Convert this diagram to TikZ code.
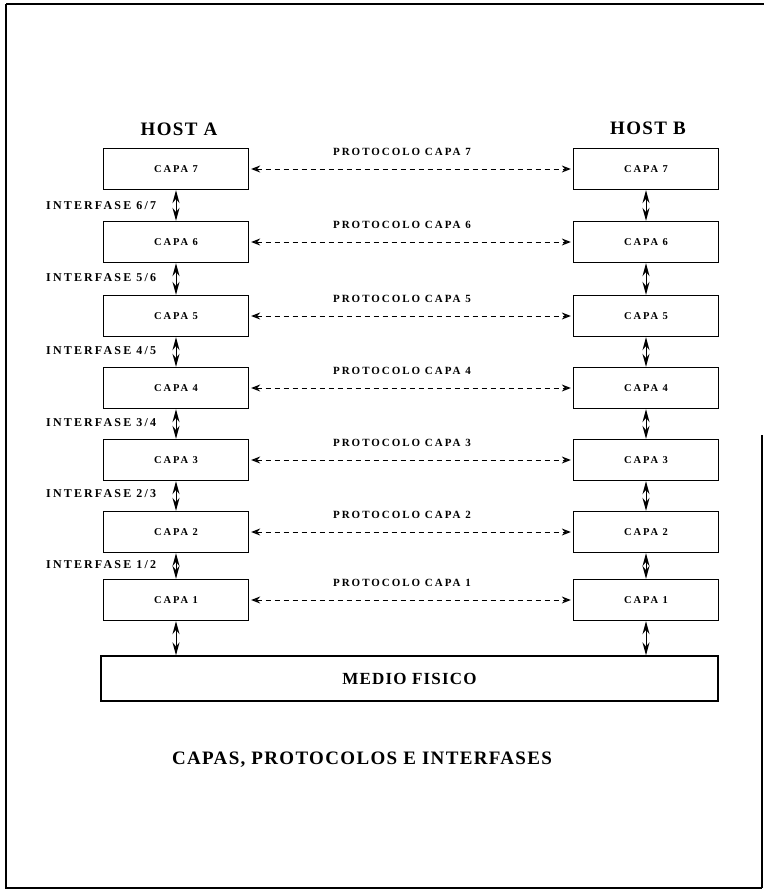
\documentclass[tikz,border=0pt]{standalone}
\usepackage{fontspec}
\setmainfont{Liberation Serif}
\newfontfamily\lblfont[LetterSpace=18]{Liberation Serif}
\newfontfamily\bigfont[LetterSpace=7]{Liberation Serif}
\usetikzlibrary{arrows.meta}
\begin{document}
\begin{tikzpicture}[x=1pt,y=-1pt,
  capa/.style={draw,line width=1.3pt,minimum width=145pt,minimum height=41pt,inner sep=0pt,
    font=\lblfont\bfseries\fontsize{10.5}{12}\selectfont},
  iface/.style={font=\lblfont\bfseries\fontsize{12}{13}\selectfont,anchor=west,inner sep=0pt},
  plabel/.style={font=\lblfont\bfseries\fontsize{11}{12}\selectfont,inner sep=0pt},
  proto/.style={line width=0.9pt,dash pattern=on 5pt off 4pt,
    {Stealth[open,length=9pt,width=7pt,line width=1.2pt]}-{Stealth[open,length=9pt,width=7pt,line width=1.2pt]}},
  iarrow/.style={line width=1pt,{Stealth[open,length=13pt,width=7pt,line width=1.4pt]}-{Stealth[open,length=13pt,width=7pt,line width=1.4pt]}},
  bigtext/.style={font=\bigfont\bfseries\fontsize{19}{21}\selectfont},
  frame/.style={line width=2.8pt}]
\useasboundingbox (0,0) rectangle (764,892);
% frame
\draw[frame] (6,4) -- (764,4);
\draw[frame] (6,4) -- (6,888) -- (762,888);
\draw[line width=1.5pt] (762,435) -- (762,888);
% titles
\node[bigtext] (ha) at (179,129) {HOST A};
\node[bigtext] (hb) at (648,128) {HOST B};
% layers
\foreach \n/\y in {7/169,6/242,5/316,4/388,3/460,2/532,1/600}{
  \node[capa] (a\n) at (176,\y) {CAPA \n};
  \node[capa] (b\n) at (646,\y) {CAPA \n};
  \path (a\n.east) ++(2,0) coordinate (pa\n) (b\n.west) ++(-2,0) coordinate (pb\n);
  \draw[proto] (pa\n) -- (pb\n);
  \node[plabel] (pl\n) at (402,\y-17) {PROTOCOLO CAPA \n};
}
% interfaces
\foreach \u/\l/\y in {7/6/206,6/5/278,5/4/351,4/3/423,3/2/494,2/1/565}{
  \node[iface] (if\u) at (46,\y) {INTERFASE \l/\u};
  \draw[iarrow] (a\u.south) -- (a\l.north);
  \draw[iarrow] (b\u.south) -- (b\l.north);
}
% physical medium
\node[draw,line width=1.3pt,minimum width=617pt,minimum height=45pt,inner sep=0pt,
  font=\bigfont\bfseries\fontsize{17}{19}\selectfont] (mf) at (409.5,678.5) {MEDIO FISICO};
\draw[iarrow] (a1.south) -- (a1.south |- mf.north);
\draw[iarrow] (b1.south) -- (b1.south |- mf.north);
% caption
\node[bigtext] (cap) at (362,760) {CAPAS, PROTOCOLOS E INTERFASES};
\end{tikzpicture}
\end{document}
